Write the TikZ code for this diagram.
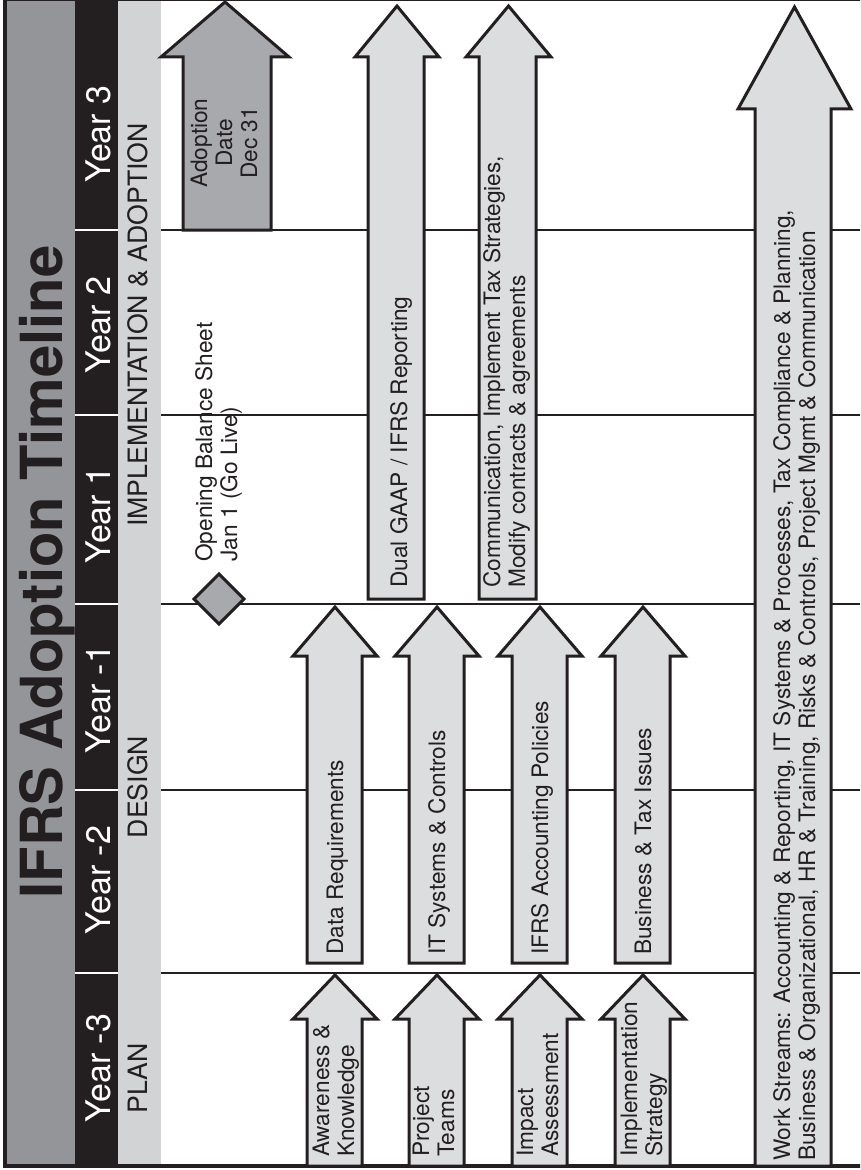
\documentclass[tikz,border=0pt]{standalone}
\usepackage{fontspec}
\setmainfont{TeX Gyre Heros}
\definecolor{ink}{HTML}{231F20}
\definecolor{titlegray}{HTML}{939598}
\definecolor{phasegray}{HTML}{D1D3D4}
\definecolor{arrowfill}{HTML}{DCDDDE}
\definecolor{darkfill}{HTML}{A7A9AC}
\newcommand\myarrow[8]{\draw[#1] (#2,#8) -- (#2,#7) -- (#4,#7) -- ({(#4+#5)/2},#6) -- (#5,#7) -- (#3,#7) -- (#3,#8) -- cycle;}
\begin{document}
\begin{tikzpicture}[x=0.75pt,y=-0.75pt,
  arrowshape/.style={fill=arrowfill, draw=ink, line width=2.25pt, line join=miter},
  darkarrow/.style={fill=darkfill, draw=ink, line width=2.25pt, line join=miter},
  gridline/.style={draw=ink, line width=1.6pt},
  sepline/.style={draw=white, line width=1.5pt},
  lbl/.style={rotate=90, font=\fontsize{17}{18.75}\selectfont, text=ink, inner sep=0pt, align=left, anchor=base west},
  yearlbl/.style={rotate=90, font=\fontsize{25.5}{28}\selectfont, text=white, inner sep=0pt, anchor=base},
  phaselbl/.style={rotate=90, font=\fontsize{20}{22}\selectfont, text=ink, inner sep=0pt, anchor=base},
  titlelbl/.style={rotate=90, font=\fontsize{43.5}{48}\selectfont\bfseries, text=ink, inner sep=0pt, anchor=base}]
\useasboundingbox (0,0) rectangle (860,1170);
\clip (0,0) rectangle (860,1170);
\fill[white] (0,0) rectangle (860,1170);
% bands
\fill[titlegray] (5,0) rectangle (75,1166);
\fill[ink] (75,0) rectangle (118,1166);
\fill[phasegray] (118,0) rectangle (161,1166);
% year separators and grid lines
\foreach \yy in {230,415,604,790,973} {
  \draw[sepline] (75,\yy) -- (118,\yy);
  \draw[gridline] (161,\yy) -- (860,\yy);
}
% frame
\draw[ink, line width=3pt] (5,0) -- (5,1166) -- (900,1166);
\draw[ink, line width=2pt] (5,0) -- (900,0);
% title, years, phases
\node[titlelbl] (title) at (62,572) {IFRS Adoption Timeline};
\node[yearlbl] (y3) at (110,134) {Year 3};
\node[yearlbl] (y2) at (110,325) {Year 2};
\node[yearlbl] (y1) at (110,515) {Year 1};
\node[yearlbl] (ym1) at (110,699) {Year -1};
\node[yearlbl] (ym2) at (110,880) {Year -2};
\node[yearlbl] (ym3) at (110,1068) {Year -3};
\node[phaselbl] (plan) at (147,1078) {PLAN};
\node[phaselbl] (design) at (147,787) {DESIGN};
\node[phaselbl] (impl) at (147,325) {IMPLEMENTATION \& ADOPTION};
% plan arrows
\myarrow{arrowshape}{307}{362}{293}{377}{975}{1019}{1166}
\myarrow{arrowshape}{409}{464}{395}{479}{975}{1019}{1166}
\myarrow{arrowshape}{512}{567}{498}{582}{975}{1019}{1166}
\myarrow{arrowshape}{615}{670}{601}{685}{975}{1019}{1166}
% design arrows
\myarrow{arrowshape}{307}{362}{293}{377}{607}{656}{963}
\myarrow{arrowshape}{409}{464}{395}{479}{607}{656}{963}
\myarrow{arrowshape}{512}{567}{498}{582}{607}{656}{963}
\myarrow{arrowshape}{615}{670}{601}{685}{607}{656}{963}
% implementation arrows
\myarrow{arrowshape}{368}{424}{355}{439}{6}{57}{599}
\myarrow{arrowshape}{479}{536}{466}{551}{6}{57}{599}
\myarrow{darkarrow}{183}{271}{161}{289}{2}{57}{230}
% work streams
\myarrow{arrowshape}{755}{831}{738}{851}{7}{109}{1166}
% diamond
\draw[darkarrow] (219,574) -- (244,599) -- (219,624) -- (194,599) -- cycle;
% labels (base anchor of a multi-line node = baseline of its last line)
\node[lbl] (aw) at (354,1157) {Awareness \&\\Knowledge};
\node[lbl] (pt) at (454,1157) {Project\\Teams};
\node[lbl] (ia) at (558,1157) {Impact\\Assessment};
\node[lbl] (is) at (662,1157) {Implementation\\Strategy};
\node[lbl] (dr) at (343,955) {Data Requirements};
\node[lbl] (it) at (445,955) {IT Systems \& Controls};
\node[lbl] (ap) at (548,955) {IFRS Accounting Policies};
\node[lbl] (bt) at (651,955) {Business \& Tax Issues};
\node[lbl] (dg) at (407,588) {Dual GAAP / IFRS Reporting};
\node[lbl] (cm) at (525,588) {Communication, Implement Tax Strategies,\\Modify contracts \& agreements};
\node[lbl] (ob) at (237,562) {Opening Balance Sheet\\Jan 1 (Go Live)};
\node[lbl, align=center, anchor=base] (ad) at (257,143) {Adoption\\Date\\Dec 31};
\node[lbl] (ws) at (815,1161) {Work Streams: Accounting \& Reporting, IT Systems \& Processes, Tax Compliance \& Planning,\\Business \& Organizational, HR \& Training, Risks \& Controls, Project Mgmt \& Communication};
\end{tikzpicture}
\end{document}
